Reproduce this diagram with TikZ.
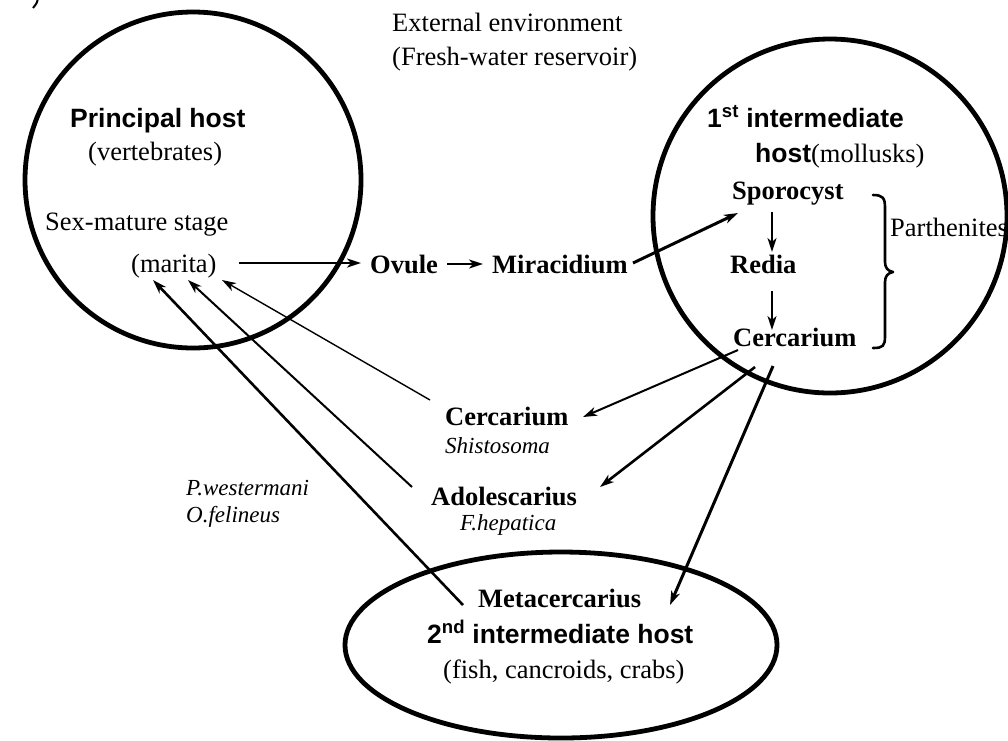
\documentclass[tikz,border=0pt]{standalone}
\usepackage{fontspec}
\setmainfont{Liberation Serif}
\setsansfont{Liberation Sans}
\usetikzlibrary{arrows.meta}
\tikzset{
  txt/.style={inner sep=0pt, anchor=base west, font=\fontsize{26.5}{30}\selectfont},
  bsf/.style={txt, font=\fontsize{26.5}{30}\selectfont\sffamily\bfseries},
  bsr/.style={txt, font=\fontsize{26.5}{30}\selectfont\bfseries},
  itx/.style={txt, font=\fontsize{23}{26}\selectfont\itshape},
  host/.style={line width=4.8pt},
  arr/.style={-{Stealth[length=14pt,width=9pt,inset=4pt]}},
}
\begin{document}
\begin{tikzpicture}[x=1pt,y=-1pt]
\useasboundingbox (0,0) rectangle (1008,740);
\fill[white] (0,0) rectangle (1008,740);
% corner fragment (cut-off stroke)
\draw[line width=2pt] (38,-2) .. controls (37,3) .. (33,8);
% hosts
\draw[host] (193,180) circle[radius=168];
\draw[host] (830,216) circle[radius=177];
\draw[host] (561,645) ellipse[x radius=216, y radius=93];
% texts
\node[txt] (ext1) at (392,31) {External environment};
\node[txt] (ext2) at (392,65) {(Fresh-water reservoir)};
\node[bsf] (ph) at (70,127) {Principal host};
\node[txt] (vert) at (88,160) {(vertebrates)};
\node[txt] (sex) at (45,230) {Sex-mature stage};
\node[txt] (marita) at (131,272) {(marita)};
\node[bsr] (ovule) at (370,273) {Ovule};
\node[bsr] (mira) at (492,273) {Miracidium};
\node[bsf] (inter1) at (707,127) {1\textsuperscript{st} intermediate};
\node[txt] (host1) at (755,162) {\sffamily\bfseries host\rmfamily\mdseries(mollusks)};
\node[bsr] (spor) at (732,199) {Sporocyst};
\node[bsr] (redia) at (730,273) {Redia};
\node[bsr] (cerc1) at (733,346) {Cercarium};
\node[txt] (parth) at (890,236) {Parthenites};
\node[bsr] (cerc2) at (445,425) {Cercarium};
\node[itx] (shis) at (445,453) {Shistosoma};
\node[bsr] (adol) at (431,505) {Adolescarius};
\node[itx] (fhep) at (460,530) {F.hepatica};
\node[itx] (pw) at (186,495) {P.westermani};
\node[itx] (of) at (186,522) {O.felineus};
\node[bsr] (meta) at (478,607) {Metacercarius};
\node[bsf] (second) at (427,643) {2\textsuperscript{nd} intermediate host};
\node[txt] (fish) at (443,678) {(fish, cancroids, crabs)};
% connector end points
\coordinate (maritaR) at (239,263);
\coordinate (ovuleL) at (361,263);
\coordinate (ovuleR) at (447,264);
\coordinate (miraL) at (483,264);
\coordinate (miraR) at (633,263);
\coordinate (sporL) at (738,213);
\coordinate (sporB) at (772,212);
\coordinate (rediaT) at (772,252);
\coordinate (rediaB) at (772,291);
\coordinate (cercT) at (772,330);
\coordinate (cA) at (738,350);
\coordinate (cB) at (755,367);
\coordinate (cC) at (773,366);
\coordinate (cerc2R) at (583,417);
\coordinate (adolR) at (600,487);
\coordinate (metaR) at (670,605);
\coordinate (cerc2L) at (430,400);
\coordinate (adolL) at (412,487);
\coordinate (metaL) at (463,605);
\coordinate (mA) at (222,280);
\coordinate (mB) at (188,280);
\coordinate (mC) at (153,280);
% connectors
\draw[arr, line width=2.6pt] (maritaR) -- (ovuleL);
\draw[arr, line width=2.2pt] (ovuleR) -- (miraL);
\draw[arr, line width=3pt] (miraR) -- (sporL);
\draw[arr, line width=2pt] (sporB) -- (rediaT);
\draw[arr, line width=2pt] (rediaB) -- (cercT);
\draw[arr, line width=2pt] (cA) -- (cerc2R);
\draw[arr, line width=2.6pt] (cB) -- (adolR);
\draw[arr, line width=3pt] (cC) -- (metaR);
\draw[arr, line width=1.4pt] (cerc2L) -- (mA);
\draw[arr, line width=2pt] (adolL) -- (mB);
\draw[arr, line width=2.6pt] (metaL) -- (mC);
% brace
\draw[line width=2.6pt, line cap=round, line join=round]
  (873,195) .. controls (883,195) and (885,198) .. (885,208)
  -- (885,262) .. controls (885,268) and (888,271) .. (893,272)
  .. controls (888,273) and (885,276) .. (885,282)
  -- (885,336) .. controls (885,346) and (883,348) .. (873,348);
\end{tikzpicture}
\end{document}
